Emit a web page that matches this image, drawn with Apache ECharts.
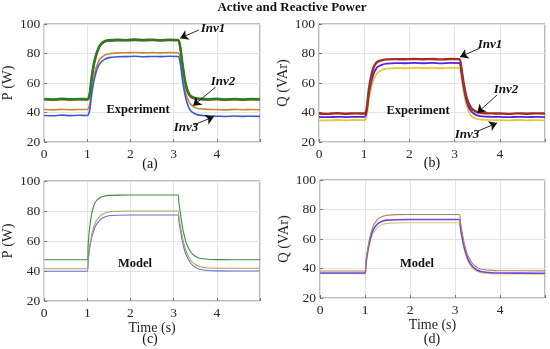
<!DOCTYPE html>
<html><head><meta charset="utf-8">
<script src="https://cdn.jsdelivr.net/npm/echarts@6/dist/echarts.min.js"></script>
<style>html,body{margin:0;padding:0;background:#fff}#c{width:550px;height:349px}</style>
</head><body><div id="c"></div>
<script>
// ---------- data ----------
const xTicks = [0, 1, 2, 3, 4];
const yTicks = [20, 40, 60, 80, 100];
const tExp = [0,0.2,0.4,0.6,0.8,1.0,1.05,1.1,1.15,1.2,1.25,1.3,1.4,1.5,1.7,1.9,2.1,2.3,2.5,2.7,2.9,3.1,3.15,3.2,3.25,3.3,3.35,3.4,3.5,3.6,3.8,4.0,4.2,4.4,4.6,4.8,5.0];
// (a) experiment, active power P (W)
const pExpInv1  = [49.2,48.9,49.3,49.0,49.2,49.1,52,64,73,79,83,86,88.4,89.0,89.3,89.1,89.5,89.2,89.4,89.1,89.4,89.2,85,74,64,57,53,51,49.8,49.4,49.0,49.3,48.9,49.2,48.9,49.2,49.0];
const pExpInv1b = [48.8,48.6,48.9,48.7,48.8,48.7,51,62,71.5,78,82.5,85.5,88,88.6,88.9,88.8,89.0,88.8,89.0,88.7,89.0,88.8,84,73,63,56,52.3,50.4,49.3,49.0,48.7,48.9,48.6,48.8,48.6,48.8,48.7];
const pExpInv2  = [42.0,41.8,42.1,41.9,42.0,42.0,45,55,64,70,74,76.5,78.8,79.8,80.4,80.5,80.7,80.4,80.6,80.4,80.6,80.5,77,66,57,51,47.5,45.3,43.3,42.5,42.1,42.0,41.8,42.1,41.9,42.0,41.9];
const pExpInv3  = [38.0,37.8,38.2,37.9,38.1,38.0,41,52,61,67,71,73.5,76,77.2,77.8,77.9,78.1,77.8,78.0,77.9,78.1,78.0,74,63,54,47.5,43.5,41,39,38.2,37.6,37.5,37.3,37.6,37.4,37.5,37.4];
// (b) experiment, reactive power Q (VAr)
const qExpInv1 = [39.3,39.1,39.5,39.2,39.4,39.3,42,55,64,70,73,74.5,75.5,76,76.2,76.1,76.3,76.1,76.3,76.0,76.3,76.2,70,60,52,47,44,42,40.3,39.7,39.4,39.3,39.1,39.4,39.2,39.4,39.3];
const qExpInv2 = [37.0,36.8,37.1,36.9,37.1,37.0,40,52,60,65.5,69,71,72.5,73.2,73.5,73.4,73.6,73.4,73.6,73.3,73.6,73.5,67,57,49.5,44.5,41.5,39.8,38,37.4,37.1,37.0,36.8,37.1,36.9,37.0,36.9];
const qExpInv3 = [34.8,34.6,34.9,34.7,34.9,34.8,37,48,56,61.5,65,67,69,69.8,70.1,70.0,70.3,70.1,70.2,70.0,70.3,70.2,64,54,46.5,41.5,38.5,37,35.6,35.1,34.8,34.8,34.6,34.9,34.7,34.8,34.7];
// model time grid
const tMod = [0,1.0,1.02,1.05,1.1,1.15,1.2,1.3,1.4,1.5,1.7,2.0,3.1,3.12,3.15,3.2,3.25,3.3,3.4,3.5,3.6,3.8,4.0,5.0];
// (c) model P
const pModInv1 = [47.5,47.5,58,68,78,83.5,86.5,89,90,90.4,90.6,90.7,90.7,86,80,70,63,58,52.5,49.8,48.5,47.8,47.6,47.5];
const pModInv2 = [41.5,41.5,48,56,64,69.5,73,76.8,78.5,79.3,79.8,80,80,76.5,71,63,57,52.5,47,44.3,43,42,41.8,41.8];
const pModInv3 = [39.8,39.8,46,54,62,67,70.5,74.3,76,76.8,77.2,77.3,77.3,73.5,68,60,54,50,45,42.5,41.2,40.3,40.1,40];
// (d) model Q
const qModInv1 = [38.3,38.3,44,51,60,66,70,73.8,75.4,76.1,76.5,76.6,76.6,72,66,58,52,48,43,40.6,39.5,38.7,38.5,38.4];
const qModInv2 = [37,37,43,50,58,63.5,67.3,70.7,72.2,72.8,73.1,73.2,73.2,68.5,62.5,55,49.5,45.5,41,38.8,37.8,37.1,36.9,36.8];
const qModInv3 = [36.4,36.4,41.5,48,56,61.5,65,68.5,70,70.6,70.9,71,71,66.5,61,53.5,48,44.2,40,37.9,37,36.4,36.3,36.2];

// ---------- chart ----------
const FF = 'Liberation Serif';
const zip = (t, v) => t.map((x, i) => [x, v[i]]);
const grids = [
  {left: 41, top: 24, width: 219, height: 118},
  {left: 319, top: 24, width: 226, height: 118},
  {left: 41, top: 181, width: 219, height: 120},
  {left: 320, top: 180, width: 225, height: 118}
].map(g => Object.assign(g, {show: true, borderColor: '#777', borderWidth: 1, backgroundColor: 'transparent'}));

const yNames = ['P (W)', 'Q (VAr)', 'P (W)', 'Q (VAr)'];
const xAxes = grids.map((g, i) => ({
  type: 'value', gridIndex: i, min: 0, max: 5, interval: 1,
  axisLine: {show: false},
  axisTick: {show: true, inside: true, length: 3, lineStyle: {color: '#777'}},
  splitLine: {show: true, lineStyle: {color: '#e4e4e4'}},
  axisLabel: {fontFamily: FF, fontSize: 13.5, color: '#262626', margin: 5,
    formatter: v => xTicks.includes(v) ? String(v) : ''},
  name: i >= 2 ? 'Time (s)' : '', nameLocation: 'middle', nameGap: 17,
  nameTextStyle: {fontFamily: FF, fontSize: 14, color: '#262626', verticalAlign: 'top'}
}));
const yAxes = grids.map((g, i) => ({
  type: 'value', gridIndex: i, min: 20, max: 100, interval: 20,
  axisLine: {show: false},
  axisTick: {show: true, inside: true, length: 3, lineStyle: {color: '#777'}},
  splitLine: {show: true, lineStyle: {color: '#e4e4e4'}},
  axisLabel: {fontFamily: FF, fontSize: 13.5, color: '#262626', margin: 4,
    formatter: v => yTicks.includes(v) ? String(v) : ''},
  name: yNames[i], nameLocation: 'middle', nameRotate: 90, nameGap: 25,
  nameTextStyle: {fontFamily: FF, fontSize: 14.5, color: '#262626'}
}));

function line(idx, t, v, color, width, z) {
  return {type: 'line', xAxisIndex: idx, yAxisIndex: idx, data: zip(t, v),
    showSymbol: false, symbol: 'none', smooth: 0.3, z: z || 2,
    lineStyle: {color: color, width: width}, silent: true};
}
function arrows(idx, list) {
  return {type: 'line', xAxisIndex: idx, yAxisIndex: idx, data: [], silent: true, z: 10,
    markLine: {silent: true, symbol: ['none', 'arrow'], symbolSize: 8, animation: false,
      label: {show: false}, lineStyle: {color: '#111', width: 0.9, type: 'solid'},
      emphasis: {disabled: true},
      data: list.map(a => [{coord: a[0]}, {coord: a[1]}])}};
}

const series = [
  line(0, tExp, pExpInv1b, '#d03030', 2.2, 2),
  line(0, tExp, pExpInv2, '#c8883a', 1.6, 3),
  line(0, tExp, pExpInv3, '#3a5ad0', 1.6, 3),
  line(0, tExp, pExpInv1, '#237f23', 2.4, 4),
  line(1, tExp, qExpInv3, '#e8c830', 1.8, 2),
  line(1, tExp, qExpInv2, '#5a20e0', 1.8, 3),
  line(1, tExp, qExpInv1, '#a03020', 2.4, 4),
  line(2, tMod, pModInv3, '#6a70d0', 1.1, 2),
  line(2, tMod, pModInv2, '#b0a060', 1.1, 3),
  line(2, tMod, pModInv1, '#3a8a4a', 1.1, 4),
  line(3, tMod, qModInv3, '#d8c878', 1.1, 2),
  line(3, tMod, qModInv2, '#6a48d8', 1.6, 3),
  line(3, tMod, qModInv1, '#b08060', 1.1, 4),
  arrows(0, [[[3.58, 95.9], [3.15, 90.4]], [[3.97, 57.2], [3.45, 44.6]], [[3.47, 31.6], [3.93, 37.1]]]),
  arrows(1, [[[3.56, 83.7], [3.12, 77.6]], [[3.94, 51.9], [3.50, 39.7]], [[3.52, 27.5], [3.94, 32.9]]])
];

const graphic = [
  {type: 'text', x: 292, y: 8, z: 20, style: {text: 'Active and Reactive Power', fontFamily: FF, fontSize: 13, fontWeight: 'bold', fill: '#111', align: 'center', verticalAlign: 'middle'}},
];
function t(x, y, s, o) {
  graphic.push({type: 'text', x: x, y: y, z: 20,
    style: Object.assign({text: s, fontFamily: FF, fontSize: 12, fill: '#111', align: 'center', verticalAlign: 'middle'}, o || {})});
}
const bi = {fontWeight: 'bold', fontStyle: 'italic', fontSize: 13};
const b = {fontWeight: 'bold', fontSize: 12.5};
t(213, 29, 'Inv1', bi); t(223, 82, 'Inv2', bi); t(186, 128, 'Inv3', bi);
t(138, 110, 'Experiment', b);
t(490, 45, 'Inv1', bi); t(506, 90, 'Inv2', bi); t(467, 135, 'Inv3', bi);
t(418, 111, 'Experiment', b);
t(135, 264, 'Model', b); t(417, 264, 'Model', b);
t(150, 164, '(a)', {fontSize: 14}); t(432, 163, '(b)', {fontSize: 14});
t(150, 339, '(c)', {fontSize: 14}); t(432, 339, '(d)', {fontSize: 14});

const chart = echarts.init(document.getElementById('c'), null, {renderer: 'canvas'});
chart.setOption({animation: false, grid: grids, xAxis: xAxes, yAxis: yAxes, series: series, graphic: graphic});
</script></body></html>
